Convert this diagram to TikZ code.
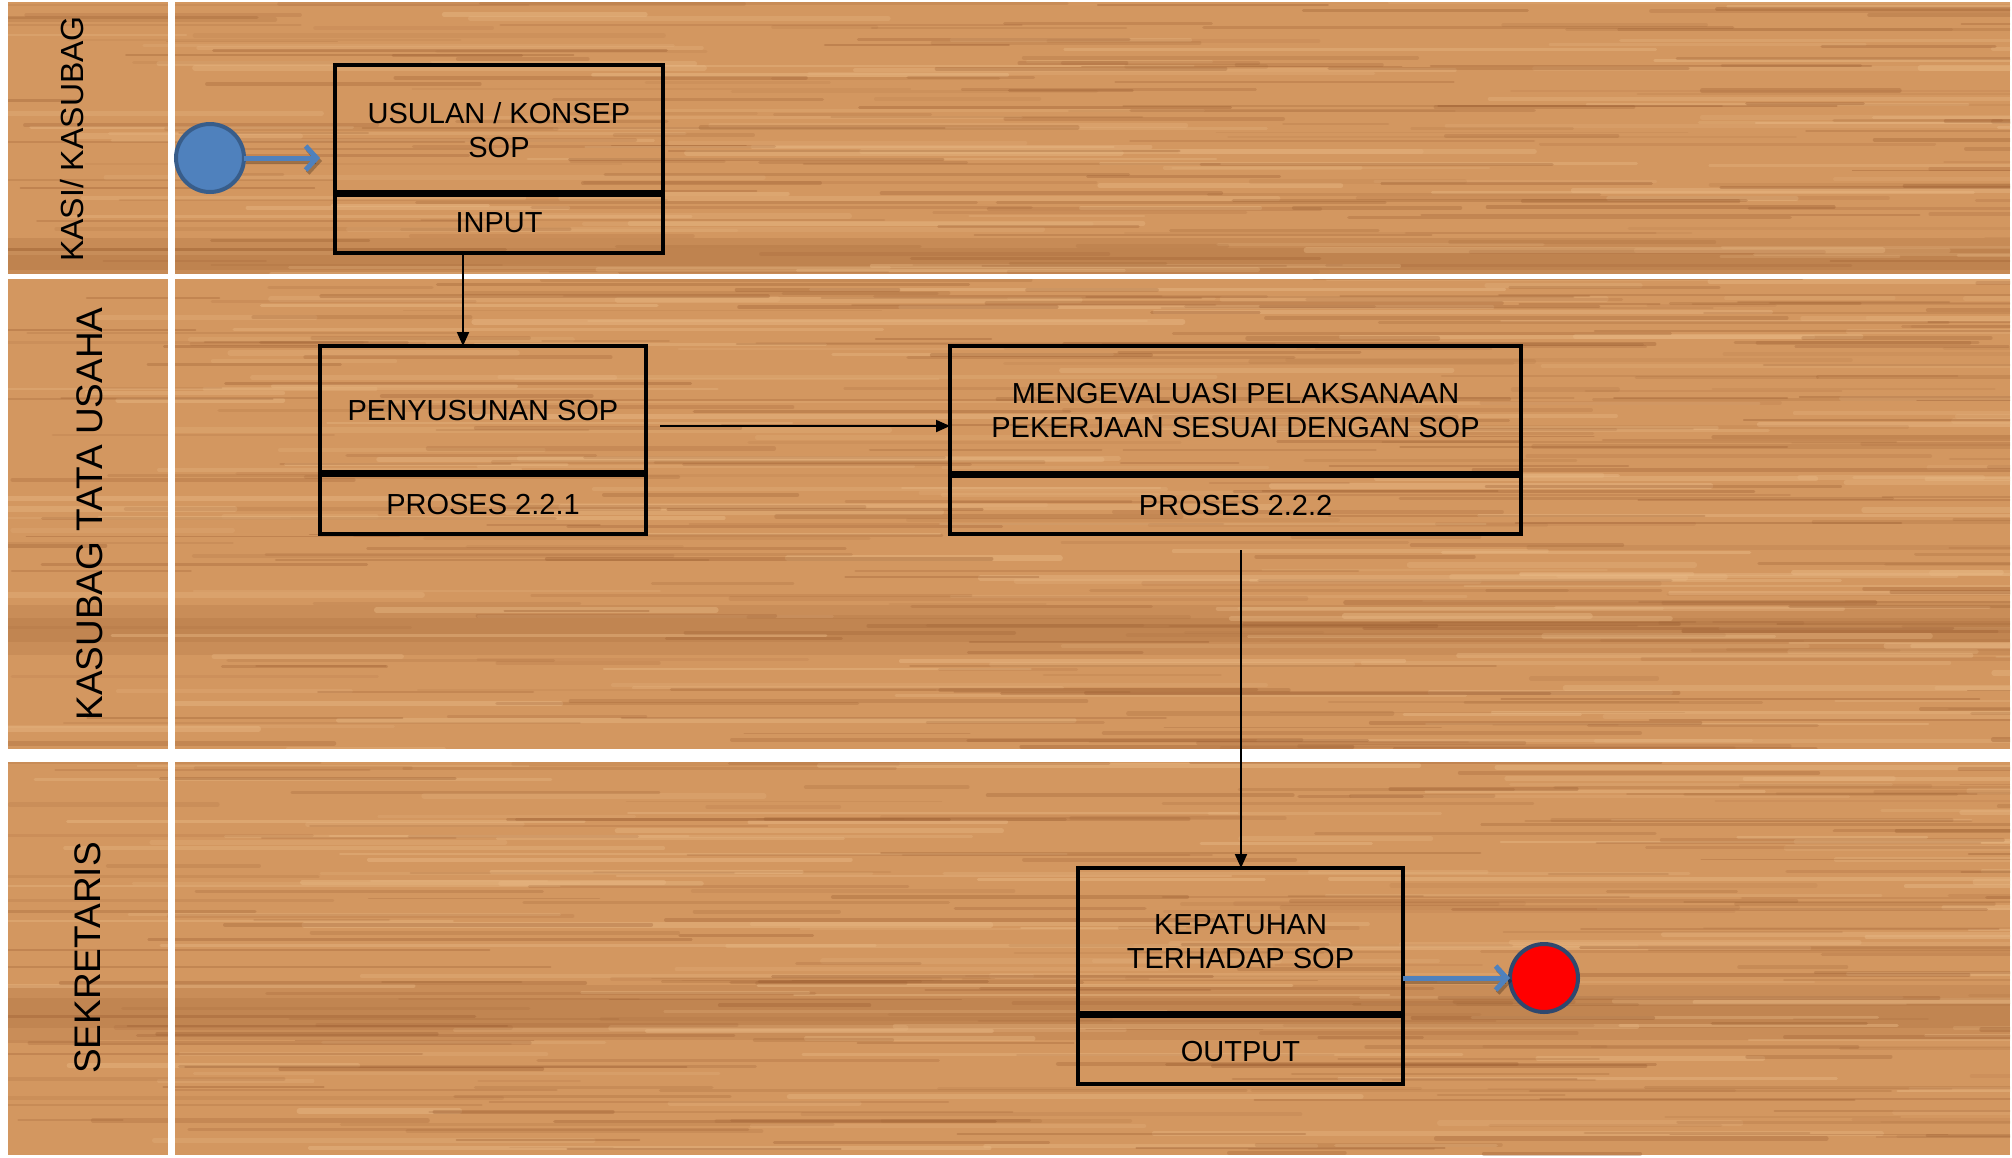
\documentclass[tikz,border=0pt]{standalone}
\usepackage{fontspec}
\setmainfont{Liberation Sans}
\usetikzlibrary{arrows.meta}
\definecolor{woodbase}{RGB}{211,151,96}
\definecolor{wooddark}{RGB}{150,88,45}
\definecolor{woodlight}{RGB}{232,184,132}
\definecolor{sblue}{RGB}{79,129,189}
\definecolor{sblueborder}{RGB}{56,93,138}
\definecolor{endborder}{RGB}{47,72,110}
\tikzset{
  procbox/.style={draw=black, line width=4.5pt, rectangle, inner sep=0pt, outer sep=0pt},
  divider/.style={draw=black, line width=7pt},
  boxtext/.style={font=\fontsize{29}{34}\selectfont, align=center, inner sep=0pt, text=black},
  lanelabel/.style={rotate=90, inner sep=0pt, text=black},
  flow/.style={draw=black, line width=2pt, -{Triangle[length=14pt,width=12pt]}},
  blueflow/.style={draw=sblue, line width=5pt, -{Straight Barb[length=11pt,width=24pt]}},
  blueshadow/.style={draw=black, opacity=0.25, line width=5pt, -{Straight Barb[length=11pt,width=24pt]}},
  startnode/.style={circle, fill=sblue, draw=sblueborder, line width=4pt, minimum size=68pt, inner sep=0pt, outer sep=0pt},
  endnode/.style={circle, fill=red, draw=endborder, line width=4pt, minimum size=68pt, inner sep=0pt, outer sep=0pt},
}
\begin{document}
\begin{tikzpicture}[x=1pt,y=-1pt]
\useasboundingbox (0,0) rectangle (2012,1157);
\fill[white] (0,0) rectangle (2012,1157);
% wood texture
\begin{scope}
\clip (8,2) rectangle (2010,1155);
\fill[woodbase] (8,2) rectangle (2010,1155);
\fill[wooddark, opacity=0.18] (8,238) rectangle (2010,274);
\fill[wooddark, opacity=0.15] (8,248) rectangle (2010,270);
\fill[wooddark, opacity=0.15] (8,605) rectangle (2010,655);
\fill[wooddark, opacity=0.15] (8,618) rectangle (2010,642);
\fill[wooddark, opacity=0.15] (8,985) rectangle (2010,1040);
\fill[wooddark, opacity=0.15] (8,998) rectangle (2010,1028);
\pgfmathsetseed{12345}
\foreach \i in {1,...,350}{
  \pgfmathsetmacro\yy{2+1153*rnd}
  \pgfmathsetmacro\xx{-100+2100*rnd}
  \pgfmathsetmacro\ll{150+600*rnd}
  \pgfmathsetmacro\ww{2+4*rnd}
  \pgfmathsetmacro\op{0.2+0.3*rnd}
  \draw[woodlight, line cap=round, line width=\ww pt, opacity=\op] (\xx,\yy) -- ++(\ll,0);
}
\foreach \i in {1,...,700}{
  \pgfmathsetmacro\yy{2+1153*rnd}
  \pgfmathsetmacro\xx{-100+2100*rnd}
  \pgfmathsetmacro\ll{100+500*rnd}
  \pgfmathsetmacro\ww{1.5+3*rnd}
  \pgfmathsetmacro\op{0.08+0.25*rnd}
  \draw[wooddark, line cap=round, line width=\ww pt, opacity=\op] (\xx,\yy) -- ++(\ll,0);
}
\end{scope}
% white gaps
\fill[white] (168,0) rectangle (175,1157);
\fill[white] (0,274) rectangle (2012,279);
\fill[white] (0,749) rectangle (2012,762);

% lane labels
\node[lanelabel, font=\fontsize{32}{38}\selectfont] (l1) at (72,139) {KASI/ KASUBAG};
\node[lanelabel, font=\fontsize{37}{44}\selectfont] (l2) at (90,514) {KASUBAG TATA USAHA};
\node[lanelabel, font=\fontsize{37}{44}\selectfont] (l3) at (88,958) {SEKRETARIS};

% boxes
\node[procbox, minimum width=328pt, minimum height=188pt] (b1) at (499,159) {};
\draw[divider] ([yshift=60pt]b1.south west) -- ([yshift=60pt]b1.south east);
\node[boxtext] (b1t) at (499,130) {USULAN / KONSEP\\SOP};
\node[boxtext] (b1b) at (499,223) {INPUT};

\node[procbox, minimum width=326pt, minimum height=188pt] (b2) at (483,440) {};
\draw[divider] ([yshift=61pt]b2.south west) -- ([yshift=61pt]b2.south east);
\node[boxtext] (b2t) at (483,411) {PENYUSUNAN SOP};
\node[boxtext] (b2b) at (483,505) {PROSES 2.2.1};

\node[procbox, minimum width=571pt, minimum height=188pt] (b3) at (1235.5,440) {};
\draw[divider] ([yshift=60pt]b3.south west) -- ([yshift=60pt]b3.south east);
\node[boxtext] (b3t) at (1235.5,411) {MENGEVALUASI PELAKSANAAN\\PEKERJAAN SESUAI DENGAN SOP};
\node[boxtext] (b3b) at (1235.5,506) {PROSES 2.2.2};

\node[procbox, minimum width=325pt, minimum height=216pt] (b4) at (1240.5,976) {};
\draw[divider] ([yshift=70pt]b4.south west) -- ([yshift=70pt]b4.south east);
\node[boxtext] (b4t) at (1240.5,941.5) {KEPATUHAN\\TERHADAP SOP};
\node[boxtext] (b4b) at (1240.5,1051) {OUTPUT};

% start / end
\node[startnode] (start) at (210,158) {};
\node[endnode] (finish) at (1544,978) {};

% connectors
\coordinate (c1) at (463,0);
\coordinate (c2) at (0,426);
\coordinate (c3) at (1241,0);
\draw[flow] (b1.south -| c1) -- (b2.north -| c1);
\draw[flow, shorten <=14pt] (b2.east |- c2) -- (b3.west |- c2);
\draw[flow, shorten <=16pt] (b3.south -| c3) -- (b4.north -| c3);

\begin{scope}[transform canvas={shift={(2pt,-3pt)}}]
\draw[blueshadow, shorten >=15pt] (start.east) -- (b1.west |- start.east);
\draw[blueshadow] (b4.east |- finish.west) -- (finish.west);
\end{scope}
\draw[blueflow, shorten >=15pt] (start.east) -- (b1.west |- start.east);
\draw[blueflow] (b4.east |- finish.west) -- (finish.west);
\end{tikzpicture}
\end{document}
